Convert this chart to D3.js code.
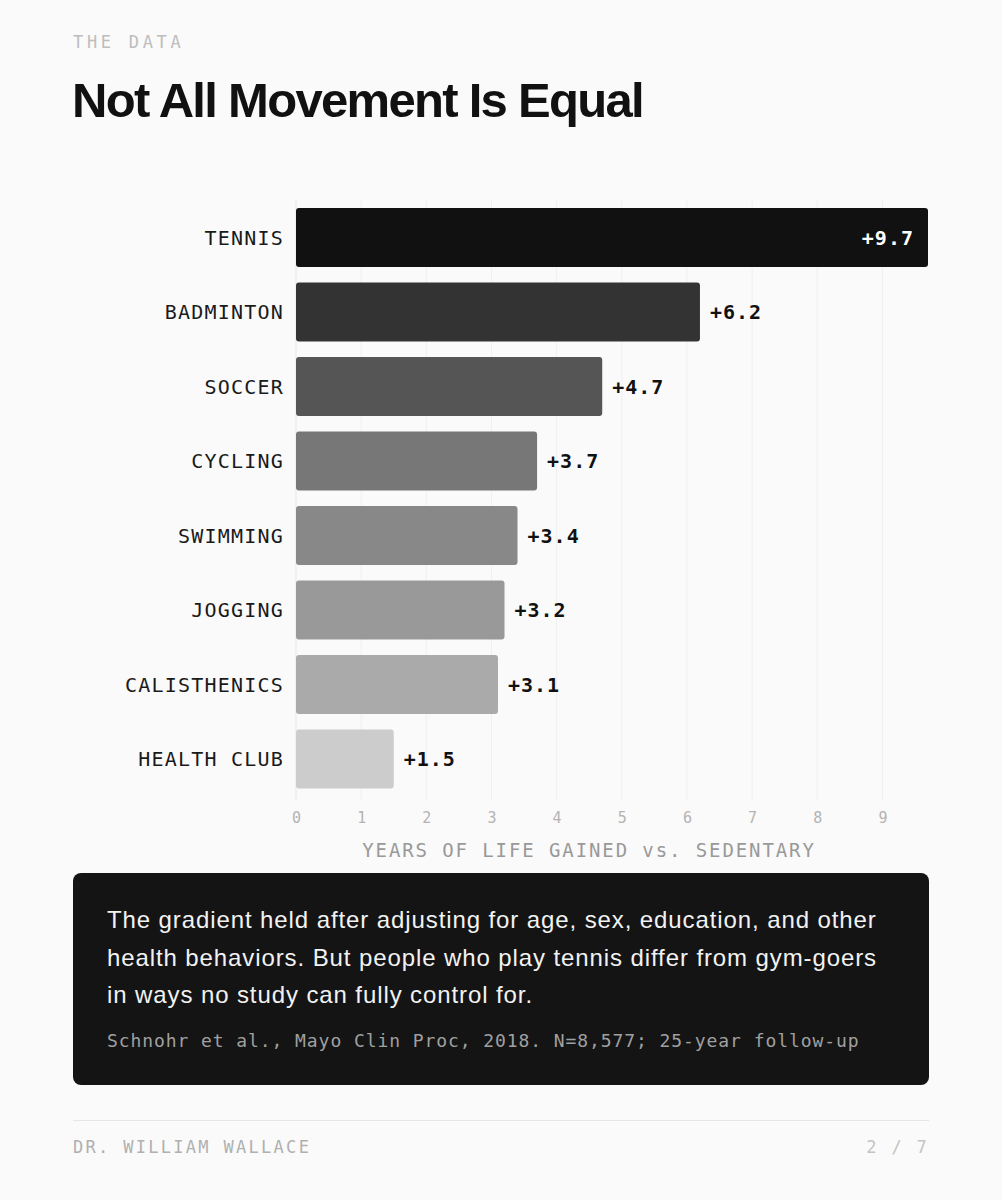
<!DOCTYPE html>
<html>
<head>
<meta charset="utf-8">
<script src="https://cdn.jsdelivr.net/npm/d3@7"></script>
<style>
  html, body { margin: 0; padding: 0; background: #fafafa; }
  svg { display: block; }
</style>
</head>
<body>
<script>
const categories = ["TENNIS", "BADMINTON", "SOCCER", "CYCLING", "SWIMMING", "JOGGING", "CALISTHENICS", "HEALTH CLUB"];
const values = [9.7, 6.2, 4.7, 3.7, 3.4, 3.2, 3.1, 1.5];
const barColors = ["#111111", "#333333", "#555555", "#777777", "#888888", "#999999", "#aaaaaa", "#cccccc"];
const tickValues = [0, 1, 2, 3, 4, 5, 6, 7, 8, 9];
const kicker = "THE DATA";
const title = "Not All Movement Is Equal";
const axisTitle = "YEARS OF LIFE GAINED vs. SEDENTARY";
const noteLines = [
  "The gradient held after adjusting for age, sex, education, and other",
  "health behaviors. But people who play tennis differ from gym-goers",
  "in ways no study can fully control for."
];
const citation = "Schnohr et al., Mayo Clin Proc, 2018. N=8,577; 25-year follow-up";
const author = "DR. WILLIAM WALLACE";
const pageLabel = "2 / 7";

const W = 1002, H = 1200;
const MONO = "'DejaVu Sans Mono', 'Liberation Mono', monospace";
const SANS = "'Liberation Sans', Arial, Helvetica, sans-serif";

const svg = d3.select("body").append("svg").attr("width", W).attr("height", H);
svg.append("rect").attr("width", W).attr("height", H).attr("fill", "#fafafa");

// Header
svg.append("text").attr("x", 73).attr("y", 48).text(kicker)
  .attr("font-family", MONO).attr("font-size", 17).attr("letter-spacing", 3.7).attr("fill", "#bdbdbd");
svg.append("text").attr("x", 72).attr("y", 117).text(title)
  .attr("font-family", SANS).attr("font-weight", 700).attr("font-size", 49)
  .attr("letter-spacing", -1.7).attr("fill", "#111");

// Scales
const x = d3.scaleLinear().domain([0, 9.7]).range([296, 928]);
const y = d3.scaleBand().domain(categories).range([200.25, 796.25]).paddingInner(0.208).paddingOuter(0.104);

// Grid lines
svg.append("g").selectAll("line").data(tickValues).join("line")
  .attr("x1", d => x(d)).attr("x2", d => x(d))
  .attr("y1", 200).attr("y2", 800)
  .attr("stroke", d => d === 0 ? "#e8e8e8" : "#f0f0f0").attr("stroke-width", 1);

// Bars
const data = categories.map((c, i) => ({ c, v: values[i], color: barColors[i] }));
svg.append("g").selectAll("rect").data(data).join("rect")
  .attr("x", x(0)).attr("y", d => y(d.c))
  .attr("width", d => x(d.v) - x(0)).attr("height", y.bandwidth())
  .attr("rx", 3).attr("fill", d => d.color);

// Category labels
svg.append("g").selectAll("text").data(data).join("text")
  .attr("x", 284).attr("y", d => y(d.c) + y.bandwidth() / 2)
  .attr("dy", "0.36em").attr("text-anchor", "end")
  .attr("font-family", MONO).attr("font-size", 20).attr("letter-spacing", 1.2)
  .attr("fill", "#1a1a1a").text(d => d.c);

// Value labels
const maxV = d3.max(values);
svg.append("g").selectAll("text").data(data).join("text")
  .attr("x", d => d.v === maxV ? x(d.v) - 14 : x(d.v) + 10)
  .attr("y", d => y(d.c) + y.bandwidth() / 2)
  .attr("dy", "0.36em")
  .attr("text-anchor", d => d.v === maxV ? "end" : "start")
  .attr("font-family", MONO).attr("font-weight", 700).attr("font-size", 20).attr("letter-spacing", 1)
  .attr("fill", d => d.v === maxV ? "#ffffff" : "#111111")
  .text(d => "+" + d.v.toFixed(1));

// X axis
const xAxis = d3.axisBottom(x).tickValues(tickValues).tickSize(0).tickPadding(0).tickFormat(d3.format("d"));
const gx = svg.append("g").attr("transform", "translate(0,812)").call(xAxis);
gx.select(".domain").remove();
gx.selectAll("text").attr("font-family", MONO).attr("font-size", 15).attr("fill", "#b3b3b3");

svg.append("text").attr("x", 589).attr("y", 857).attr("text-anchor", "middle")
  .attr("font-family", MONO).attr("font-size", 19).attr("letter-spacing", 1.9)
  .attr("fill", "#999").text(axisTitle);

// Note box
svg.append("rect").attr("x", 73).attr("y", 873).attr("width", 856).attr("height", 212)
  .attr("rx", 8).attr("fill", "#141414");
svg.append("g").selectAll("text").data(noteLines).join("text")
  .attr("x", 107).attr("y", (d, i) => 928 + i * 37.5)
  .attr("font-family", SANS).attr("font-size", 24).attr("letter-spacing", 0.9)
  .attr("fill", "#f2f2f2").text(d => d);
svg.append("text").attr("x", 107).attr("y", 1047).text(citation)
  .attr("font-family", MONO).attr("font-size", 18).attr("letter-spacing", 0.92).attr("fill", "#a0a0a0");

// Footer
svg.append("line").attr("x1", 73).attr("x2", 929).attr("y1", 1120.5).attr("y2", 1120.5)
  .attr("stroke", "#e6e6e6").attr("stroke-width", 1);
svg.append("text").attr("x", 73).attr("y", 1153).text(author)
  .attr("font-family", MONO).attr("font-size", 17).attr("letter-spacing", 2.3).attr("fill", "#b0b0b0");
svg.append("text").attr("x", 929).attr("y", 1153).attr("text-anchor", "end").text(pageLabel)
  .attr("font-family", MONO).attr("font-size", 17).attr("letter-spacing", 2.3).attr("fill", "#c4c4c4");
</script>
</body>
</html>
